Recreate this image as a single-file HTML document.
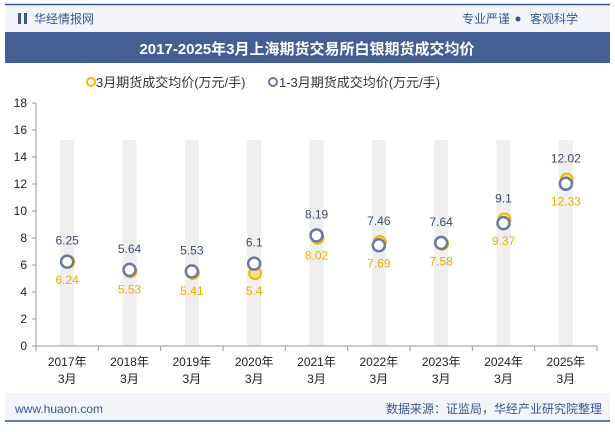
<!DOCTYPE html>
<html><head><meta charset="utf-8"><style>
body{margin:0;width:615px;height:427px;overflow:hidden;background:#fff;font-family:"Liberation Sans","Noto Sans CJK SC",sans-serif}
</style></head><body>
<svg width="615" height="427" viewBox="0 0 615 427" xmlns="http://www.w3.org/2000/svg" font-family="Liberation Sans, Noto Sans CJK SC, sans-serif">
<rect x="5" y="5" width="605" height="27" fill="#f3f5fa"/>
<line x1="5" y1="4.5" x2="610" y2="4.5" stroke="#3b5590" stroke-width="1.5"/>
<rect x="18" y="13" width="3" height="11" fill="#3b5590"/><rect x="24" y="13" width="3" height="11" fill="#3b5590"/>
<text x="34" y="23" font-size="12" fill="#3b5590">华经情报网</text>
<text x="510" y="23" font-size="12" fill="#3b5590" text-anchor="end">专业严谨</text>
<circle cx="518" cy="19" r="2.5" fill="#3b5590"/>
<text x="530" y="23" font-size="12" fill="#3b5590">客观科学</text>
<rect x="5" y="32" width="605" height="31" fill="#455f94"/>
<text x="307" y="54" font-size="15" font-weight="bold" fill="#fff" text-anchor="middle">2017-2025年3月上海期货交易所白银期货成交均价</text>
<g>
<circle cx="91" cy="82" r="4" fill="#fff" stroke="#f5b800" stroke-width="2"/>
<text x="96" y="87" font-size="13" fill="#333">3月期货成交均价(万元/手)</text>
<circle cx="273" cy="82" r="4" fill="#fff" stroke="#6b7a9e" stroke-width="2"/>
<text x="279" y="87" font-size="13" fill="#333">1-3月期货成交均价(万元/手)</text>
</g>
<g id="stripes"></g>
<g id="axes"></g>
<g id="marks"></g>
<rect x="5" y="393" width="605" height="28" fill="#f3f5fa"/>
<line x1="5" y1="421" x2="610" y2="421" stroke="#3b5590" stroke-width="1.5"/>
<text x="15" y="413" font-size="12" fill="#3b5590">www.huaon.com</text>
<text x="602" y="413" font-size="12" fill="#3b5590" text-anchor="end">数据来源：证监局，华经产业研究院整理</text>
</svg>
<script>
const categories=["2017年|3月","2018年|3月","2019年|3月","2020年|3月","2021年|3月","2022年|3月","2023年|3月","2024年|3月","2025年|3月"];
const marchValues=[6.24,5.53,5.41,5.4,8.02,7.69,7.58,9.37,12.33];
const ytdValues=[6.25,5.64,5.53,6.1,8.19,7.46,7.64,9.1,12.02];
const yTicks=[0,2,4,6,8,10,12,14,16,18];
const NS="http://www.w3.org/2000/svg";
const x0=36,x1=597,yb=346,yt=103,ymax=18;
const bw=(x1-x0)/categories.length;
const xs=i=>x0+bw*(i+0.5);
const ys=v=>yb-(v/ymax)*(yb-yt);
function mk(tag,attrs,parent,text){const e=document.createElementNS(NS,tag);for(const k in attrs)e.setAttribute(k,attrs[k]);if(text!==undefined)e.textContent=text;document.getElementById(parent).appendChild(e);return e;}
categories.forEach((c,i)=>{
 const r=mk('rect',{x:xs(i)-7,y:140,width:14,height:yb-140,fill:'#efefef'},'stripes');
 
 
 const p=c.split('|');
 const t1=mk('text',{x:xs(i),y:366,'font-size':12,'text-anchor':'middle',fill:'#222'},'axes',p[0]);
 
 
 const t2=mk('text',{x:xs(i),y:383,'font-size':12,'text-anchor':'middle',fill:'#222'},'axes',p[1]);
 
 
 mk('line',{x1:x0+bw*i,x2:x0+bw*i,y1:yb,y2:yb+5,stroke:'#999'},'axes');
});
mk('line',{x1:x1,x2:x1,y1:yb,y2:yb+5,stroke:'#999'},'axes');
const ax=mk('line',{x1:x0,x2:x1,y1:yb,y2:yb,stroke:'#999'},'axes');


const ay=mk('line',{x1:x0,x2:x0,y1:yt,y2:yb,stroke:'#999'},'axes');


yTicks.forEach(v=>{
 mk('line',{x1:x0-4,x2:x0,y1:ys(v),y2:ys(v),stroke:'#999'},'axes');
 const t=mk('text',{x:x0-9,y:ys(v)+4,'font-size':12,'text-anchor':'end',fill:'#222'},'axes',v);
 
 
});
marchValues.forEach((v,i)=>{
 const c=mk('circle',{cx:xs(i)+1,cy:ys(v),r:6,fill:'#ffe08a',stroke:'#f5b800','stroke-width':2},'marks');
 
 
 const t=mk('text',{x:xs(i),y:ys(Math.min(v,ytdValues[i]))+22,'font-size':12,'text-anchor':'middle',fill:'#f5a800'},'marks',v);
 
 
});
ytdValues.forEach((v,i)=>{
 const c=mk('circle',{cx:xs(i),cy:ys(v),r:6,fill:'#fff',stroke:'#6b7a9e','stroke-width':2.5},'marks');
 
 
 const t=mk('text',{x:xs(i),y:ys(Math.max(v,marchValues[i]))-17,'font-size':12,'text-anchor':'middle',fill:'#3b4a6b'},'marks',v);
 
 
});
</script>
</body></html>
